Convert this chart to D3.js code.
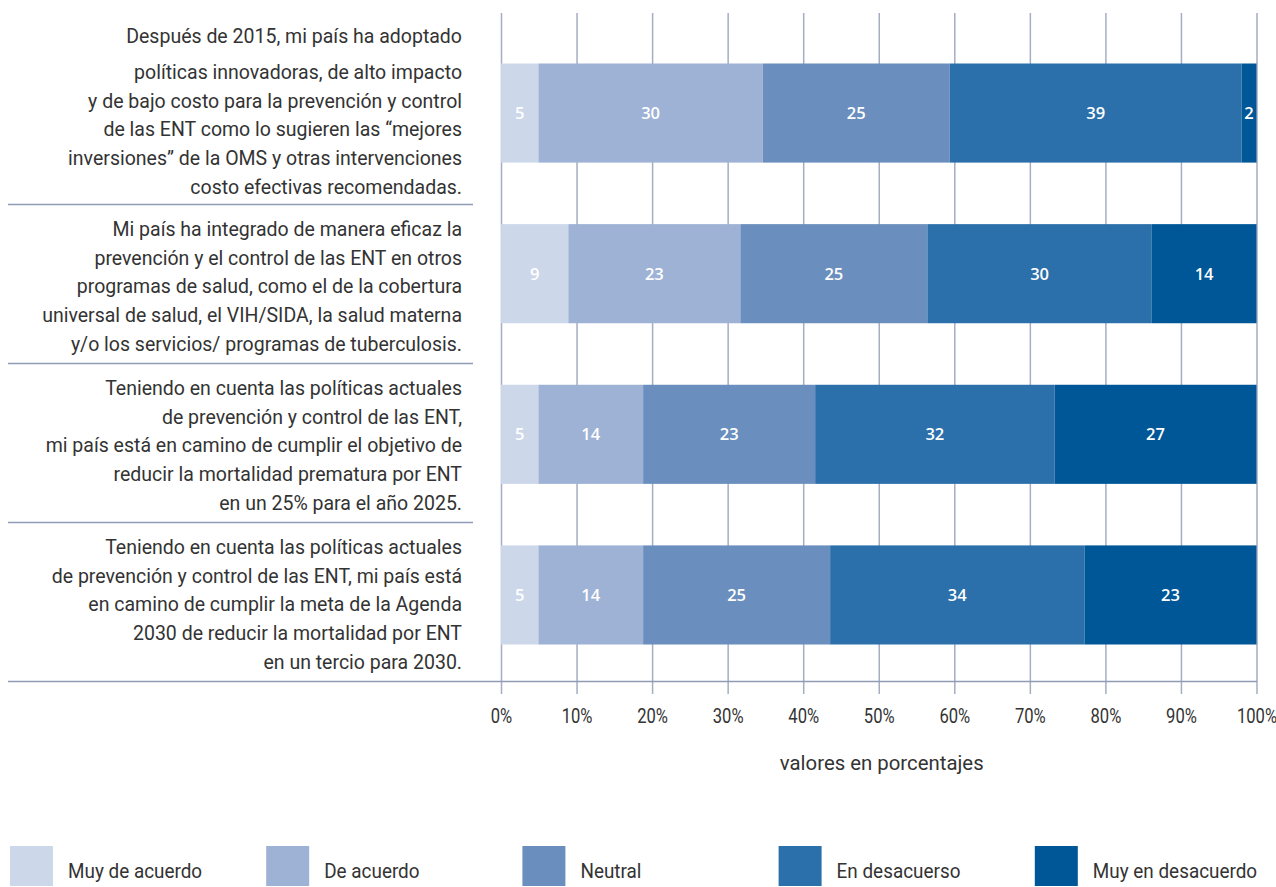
<!DOCTYPE html>
<html>
<head>
<meta charset="utf-8">
<script src="https://cdn.jsdelivr.net/npm/d3@7"></script>
<style>
  html, body { margin: 0; padding: 0; background: #ffffff; }
  svg { display: block; }
</style>
</head>
<body>
<svg id="chart" width="1276" height="887"></svg>
<script>
// Survey statements, one array of wrapped lines per bar
const questions = ["q1", "q2", "q3", "q4"];
const questionLines = [
  ["Después de 2015, mi país ha adoptado",
   "políticas innovadoras, de alto impacto",
   "y de bajo costo para la prevención y control",
   "de las ENT como lo sugieren las “mejores",
   "inversiones” de la OMS y otras intervenciones",
   "costo efectivas recomendadas."],
  ["Mi país ha integrado de manera eficaz la",
   "prevención y el control de las ENT en otros",
   "programas de salud, como el de la cobertura",
   "universal de salud, el VIH/SIDA, la salud materna",
   "y/o los servicios/ programas de tuberculosis."],
  ["Teniendo en cuenta las políticas actuales",
   "de prevención y control de las ENT,",
   "mi país está en camino de cumplir el objetivo de",
   "reducir la mortalidad prematura por ENT",
   "en un 25% para el año 2025."],
  ["Teniendo en cuenta las políticas actuales",
   "de prevención y control de las ENT, mi país está",
   "en camino de cumplir la meta de la Agenda",
   "2030 de reducir la mortalidad por ENT",
   "en un tercio para 2030."]
];

// Answer categories (legend order = stacking order)
const seriesNames = ["Muy de acuerdo", "De acuerdo", "Neutral", "En desacuerso", "Muy en desacuerdo"];
const seriesColors = ["#cdd7ea", "#9eb2d5", "#6a8ebd", "#2b70aa", "#005797"];

// Percentages per statement
const muyDeAcuerdo    = [5, 9, 5, 5];
const deAcuerdo       = [30, 23, 14, 14];
const neutral         = [25, 25, 23, 25];
const enDesacuerdo    = [39, 30, 32, 34];
const muyEnDesacuerdo = [2, 14, 27, 23];

const tickLabels = ["0%", "10%", "20%", "30%", "40%", "50%", "60%", "70%", "80%", "90%", "100%"];
const axisTitle = "valores en porcentajes";

// Build the table d3.stack needs
const seriesValues = [muyDeAcuerdo, deAcuerdo, neutral, enDesacuerdo, muyEnDesacuerdo];
const rows = questions.map((q, i) => {
  const r = { key: q };
  seriesNames.forEach((s, j) => { r[s] = seriesValues[j][i]; });
  return r;
});

// Each row is shown as shares of its own total
const stacked = d3.stack()
  .keys(seriesNames)
  .offset(d3.stackOffsetExpand)(rows);

const svg = d3.select("#chart");

const textFont = "Roboto, 'Open Sans', sans-serif";
const textColor = "#333333";
const ruleColor = "#909bb5";
const gridColor = "#a4adc2";

const plotLeft = 501, plotRight = 1256.5;
const gridTop = 13, axisY = 694;

const x = d3.scaleLinear().domain([0, 1]).range([plotLeft, plotRight]);

// Bars
const y = d3.scaleBand()
  .domain(questions)
  .range([63.5, 644.5])
  .paddingInner(0.383)
  .paddingOuter(0);

// Text blocks on the left, each closed by a rule
const rowBand = d3.scaleBand()
  .domain(questions)
  .range([46, 682]);

// Vertical grid lines + tick labels
const xAxis = d3.axisBottom(x)
  .tickValues(d3.range(0, 11).map(d => d / 10))
  .tickFormat((d, i) => tickLabels[i])
  .tickSizeInner(-(axisY - gridTop))
  .tickSizeOuter(0)
  .tickPadding(14);

const gAxis = svg.append("g")
  .attr("transform", `translate(0,${axisY})`)
  .call(xAxis);
gAxis.select(".domain").remove();
gAxis.selectAll(".tick line")
  .attr("stroke", gridColor)
  .attr("stroke-width", 1.5);
gAxis.selectAll(".tick text")
  .attr("fill", textColor)
  .attr("transform", "scale(0.79,1)")
  .style("font-family", textFont)
  .style("font-size", "21px");

// Separator rules under each statement, last one is the baseline
questions.forEach((q, i) => {
  const yy = rowBand(q) + rowBand.bandwidth() - 0.5;
  svg.append("line")
    .attr("x1", 8)
    .attr("x2", i < questions.length - 1 ? 473 : plotRight + 0.5)
    .attr("y1", yy).attr("y2", yy)
    .attr("stroke", ruleColor)
    .attr("stroke-width", 1.5);
});

// Stacked bars
const layers = svg.append("g").selectAll("g")
  .data(stacked)
  .join("g")
  .attr("fill", (d, i) => seriesColors[i]);

layers.selectAll("rect")
  .data(d => d)
  .join("rect")
  .attr("x", d => x(d[0]))
  .attr("width", d => x(d[1]) - x(d[0]))
  .attr("y", d => y(d.data.key))
  .attr("height", y.bandwidth());

// Value labels
stacked.forEach((layer) => {
  svg.append("g").selectAll("text")
    .data(layer)
    .join("text")
    .attr("x", d => (x(d[0]) + x(d[1])) / 2)
    .attr("y", d => y(d.data.key) + y.bandwidth() / 2)
    .attr("dy", "0.36em")
    .attr("text-anchor", "middle")
    .attr("fill", "#ffffff")
    .style("font-family", "'Open Sans', sans-serif")
    .style("font-weight", 600)
    .style("font-size", "16.5px")
    .text(d => d.data[layer.key]);
});

// Statement text, right aligned, sitting on its rule
const lineH = 28.8;
questions.forEach((q, i) => {
  const lines = questionLines[i];
  const lastBase = rowBand(q) + rowBand.bandwidth() - (i === 0 ? 11 : 13);
  const t = svg.append("text")
    .attr("text-anchor", "end")
    .attr("fill", textColor)
    .style("font-family", textFont)
    .style("font-size", "19.5px");
  lines.forEach((ln, k) => {
    const fromEnd = lines.length - 1 - k;
    let by = lastBase - fromEnd * lineH;
    if (i === 0 && k === 0) by -= 7;
    t.append("tspan").attr("x", 462).attr("y", by).text(ln);
  });
});

// Axis title
svg.append("text")
  .attr("transform", `translate(${(plotLeft + plotRight) / 2 + 3},770) scale(0.97,1)`)
  .attr("text-anchor", "middle")
  .attr("fill", textColor)
  .style("font-family", textFont)
  .style("font-size", "21px")
  .text(axisTitle);

// Legend
const legend = svg.append("g").selectAll("g")
  .data(seriesNames)
  .join("g")
  .attr("transform", (d, i) => `translate(${10 + i * 256.2},846)`);
legend.append("rect")
  .attr("width", 43).attr("height", 40)
  .attr("fill", (d, i) => seriesColors[i]);
legend.append("text")
  .attr("transform", "translate(58,32) scale(0.9,1)")
  .attr("fill", textColor)
  .style("font-family", textFont)
  .style("font-size", "21px")
  .text(d => d);
</script>
</body>
</html>
